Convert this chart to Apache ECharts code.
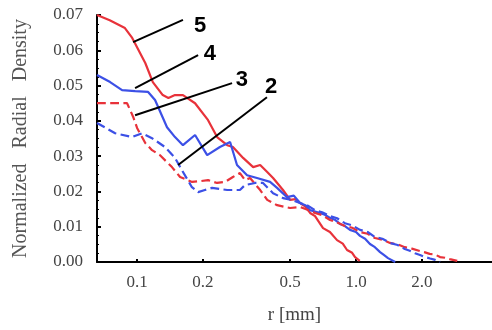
<!DOCTYPE html>
<html>
<head>
<meta charset="utf-8">
<script src="https://cdn.jsdelivr.net/npm/echarts@6/dist/echarts.min.js"></script>
<style>html,body{margin:0;padding:0;background:#fff;}#c{width:492px;height:330px;}</style>
</head>
<body>
<div id="c"></div>
<script>
// ---- data ----
var xTickLabels = [0.1, 0.2, 0.5, 1.0, 2.0];
var yTickLabels = [0, 0.01, 0.02, 0.03, 0.04, 0.05, 0.06, 0.07];
var seriesNames = ['5', '4', '3', '2'];

var r5 = [0.0656,0.075,0.088,0.095,0.109,0.118,0.131,0.139,0.149,0.162,0.184,0.211,0.232,0.258,0.274,0.305,0.339,0.365,0.393,0.418,0.464,0.50,0.53,0.555,0.585,0.617,0.65,0.707,0.76,0.819,0.87,0.91,0.96,0.99,1.04];
var y5 = [0.0700,0.0685,0.0663,0.0635,0.0564,0.0510,0.0473,0.0465,0.0473,0.0473,0.0450,0.0402,0.0354,0.0331,0.0326,0.0295,0.0269,0.0275,0.0255,0.0238,0.0204,0.0176,0.0178,0.0167,0.0158,0.0139,0.0130,0.0096,0.0085,0.0062,0.0052,0.0034,0.0026,0.0014,0.0003];

var r4 = [0.0656,0.0753,0.0854,0.098,0.1123,0.1208,0.137,0.149,0.162,0.184,0.209,0.239,0.266,0.286,0.318,0.353,0.405,0.436,0.484,0.52,0.555,0.59,0.617,0.685,0.72,0.761,0.80,0.845,0.89,0.939,1.0,1.043,1.10,1.158,1.22,1.288,1.34,1.40,1.51];
var y4 = [0.0530,0.0510,0.0487,0.0484,0.0482,0.0459,0.0382,0.0354,0.0331,0.0360,0.0303,0.0326,0.0340,0.0275,0.0246,0.0238,0.0227,0.0210,0.0184,0.0188,0.0167,0.0160,0.0147,0.0139,0.0134,0.0125,0.0120,0.0108,0.0102,0.0091,0.0085,0.0074,0.0066,0.0051,0.0042,0.0028,0.0020,0.0011,0.0000];

var r3 = [0.0656,0.0753,0.090,0.096,0.100,0.109,0.117,0.127,0.1443,0.1572,0.1783,0.194,0.211,0.232,0.2523,0.274,0.295,0.311,0.328,0.365,0.393,0.436,0.50,0.555,0.60,0.65,0.70,0.761,0.82,0.89,0.96,1.043,1.13,1.22,1.32,1.43,1.55,1.67,1.80,1.96,2.05,2.17,2.30,2.42,2.55,2.68,2.90];
var y3 = [0.0450,0.0450,0.0450,0.0411,0.0380,0.0337,0.0317,0.0303,0.0269,0.0241,0.0227,0.0229,0.0232,0.0224,0.0227,0.0241,0.0252,0.0232,0.0238,0.0204,0.0176,0.0161,0.0153,0.0156,0.0148,0.0139,0.0133,0.0119,0.0112,0.0102,0.0097,0.0085,0.0080,0.0068,0.0063,0.0054,0.0050,0.0042,0.0038,0.0031,0.0028,0.0023,0.0021,0.0014,0.0012,0.0008,0.0003];

var r2 = [0.0656,0.0794,0.0949,0.1054,0.117,0.134,0.149,0.160,0.178,0.190,0.204,0.220,0.239,0.258,0.295,0.311,0.346,0.376,0.418,0.464,0.51,0.555,0.60,0.65,0.70,0.761,0.82,0.89,0.96,1.043,1.13,1.22,1.32,1.43,1.55,1.67,1.76,1.86,1.96,2.07,2.18,2.30,2.42];
var y2 = [0.0394,0.0365,0.0354,0.0365,0.0351,0.0326,0.0295,0.0261,0.0212,0.0198,0.0204,0.0210,0.0207,0.0204,0.0204,0.0218,0.0224,0.0224,0.0195,0.0181,0.0176,0.0167,0.0160,0.0147,0.0141,0.0130,0.0124,0.0110,0.0104,0.0091,0.0085,0.0071,0.0066,0.0054,0.0048,0.0037,0.0032,0.0025,0.0020,0.0014,0.0010,0.0006,0.0000];

// ---- annotation placement (label callouts, data coordinates) ----
var calloutFrom  = [[0.0959,0.0623],[0.0979,0.0493],[0.0979,0.0416],[0.154,0.0275]];
var calloutTo    = [[0.162,0.0686],[0.190,0.0586],[0.2715,0.0507],[0.392,0.0467]];
var calloutLabel = [[0.194,0.0669],[0.215,0.0589],[0.301,0.0516],[0.409,0.0496]];

function zip(a, b) { return a.map(function (v, i) { return [v, b[i]]; }); }

var RED = '#e8323a', BLUE = '#3c50e6';
var lines = [
  {x: r5, y: y5, color: RED,  type: 'solid'},
  {x: r4, y: y4, color: BLUE, type: 'solid'},
  {x: r3, y: y3, color: RED,  type: 'dashed'},
  {x: r2, y: y2, color: BLUE, type: 'dashed'}
];

var series = lines.map(function (l, i) {
  return {
    name: seriesNames[i],
    type: 'line',
    data: zip(l.x, l.y),
    showSymbol: false,
    symbol: 'none',
    lineStyle: {color: l.color, width: 2.2, type: l.type},
    z: 3
  };
});

series.push({
  type: 'line',
  data: [],
  silent: true,
  markLine: {
    symbol: 'none',
    silent: true,
    label: {show: false},
    lineStyle: {color: '#000', width: 2, type: 'solid'},
    data: calloutFrom.map(function (p, i) { return [{coord: p}, {coord: calloutTo[i]}]; })
  },
  markPoint: {
    symbol: 'circle',
    symbolSize: 1,
    silent: true,
    itemStyle: {color: 'rgba(0,0,0,0)'},
    label: {show: true, position: 'inside', color: '#000', fontSize: 22, fontWeight: 'bold', fontFamily: 'Liberation Sans', formatter: function (p) { return p.name; }},
    data: calloutLabel.map(function (p, i) { return {name: seriesNames[i], coord: p}; })
  },
  z: 5
});

var chart = echarts.init(document.getElementById('c'), null, {renderer: 'canvas'});
chart.setOption({
  animation: false,
  backgroundColor: '#fff',
  grid: {left: 97, top: 15, right: 0, bottom: 68, containLabel: false},
  xAxis: {
    type: 'log',
    min: 0.0656,
    max: 4.18,
    name: 'r [mm]',
    nameLocation: 'middle',
    nameGap: 44,
    nameTextStyle: {fontFamily: 'Liberation Serif', fontSize: 19, color: '#444'},
    axisLine: {show: true, lineStyle: {color: '#000', width: 2}},
    axisTick: {show: true, inside: true, length: 3, lineStyle: {color: '#000', width: 2}, customValues: xTickLabels},
    minorTick: {show: false},
    splitLine: {show: false},
    axisLabel: {
      customValues: xTickLabels,
      fontFamily: 'Liberation Serif', fontSize: 17, color: '#444', margin: 12,
      formatter: function (v) { return Number(v).toFixed(1); }
    }
  },
  yAxis: {
    type: 'value',
    min: 0,
    max: 0.07,
    interval: 0.01,
    name: 'Normalized   Radial   Density',
    nameLocation: 'middle',
    nameGap: 66,
    nameTextStyle: {fontFamily: 'Liberation Serif', fontSize: 20, color: '#555'},
    axisLine: {show: true, lineStyle: {color: '#000', width: 2}},
    axisTick: {show: true, inside: true, length: 4, lineStyle: {color: '#000', width: 2}},
    minorTick: {show: true, splitNumber: 4, length: 2, lineStyle: {color: '#000', width: 1}},
    splitLine: {show: false},
    axisLabel: {
      fontFamily: 'Liberation Serif', fontSize: 17, color: '#444', margin: 14,
      formatter: function (v) { return v.toFixed(2); }
    }
  },
  series: series
});
</script>
</body>
</html>
